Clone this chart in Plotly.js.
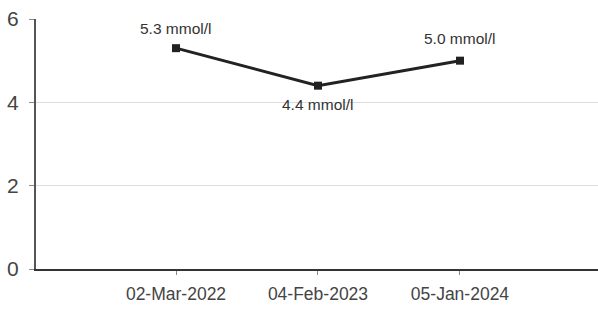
<!DOCTYPE html>
<html>
<head>
<meta charset="utf-8">
<script src="https://cdn.plot.ly/plotly-3.0.1.min.js"></script>
<style>html,body{margin:0;padding:0;background:#fff;}#chart{width:598px;height:314px;}</style>
</head>
<body>
<div id="chart"></div>
<script>
const dates = ["02-Mar-2022", "04-Feb-2023", "05-Jan-2024"];
const values = [5.3, 4.4, 5.0];
const labels = ["5.3 mmol/l", "4.4 mmol/l", "5.0 mmol/l"];
const labelShift = [20, -19, 22];
const yTicks = [0, 2, 4, 6];

const trace = {
  x: dates,
  y: values,
  type: "scatter",
  mode: "lines+markers",
  line: {color: "#222", width: 3},
  marker: {symbol: "square", size: 8, color: "#222"},
  hoverinfo: "skip"
};

const annotations = dates.map((d, i) => ({
  x: d, y: values[i], text: labels[i], showarrow: false,
  yshift: labelShift[i], font: {family: "Liberation Sans, Arial, sans-serif", size: 15.5, color: "#333"}
}));

const layout = {
  width: 598, height: 314,
  margin: {l: 36, r: 0, t: 19, b: 45},
  paper_bgcolor: "#fff", plot_bgcolor: "#fff",
  showlegend: false,
  font: {family: "Liberation Sans, Arial, sans-serif", color: "#444"},
  xaxis: {
    type: "category",
    range: [-0.986, 2.972],
    showline: true, linecolor: "#333", linewidth: 2,
    showgrid: false, zeroline: false,
    ticks: "outside", ticklen: 4, tickcolor: "#888",
    tickfont: {size: 17.5, color: "#444"},
    ticklabelstandoff: 4
  },
  yaxis: {
    range: [0, 6],
    tickvals: yTicks, ticktext: yTicks.map(String),
    showline: true, linecolor: "#555", linewidth: 2,
    showgrid: true, gridcolor: "#dcdcdc", gridwidth: 1,
    zeroline: false,
    ticks: "outside", ticklen: 5, tickcolor: "#888",
    tickfont: {size: 21, color: "#444"},
    ticklabelstandoff: 6
  },
  annotations: annotations
};

Plotly.newPlot("chart", [trace], layout, {displayModeBar: false, staticPlot: true});
</script>
</body>
</html>
